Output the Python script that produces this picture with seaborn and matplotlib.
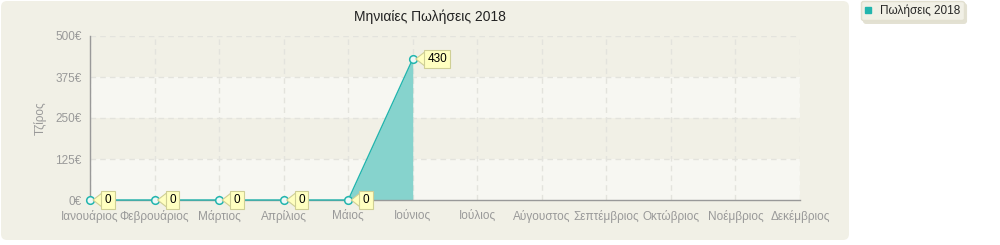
import numpy as np
import pandas as pd
import matplotlib
matplotlib.use("Agg")
import matplotlib.pyplot as plt
import matplotlib.transforms as mtransforms
import seaborn as sns
from matplotlib.patches import FancyBboxPatch, Polygon
from matplotlib.lines import Line2D

months = ["Ιανουάριος", "Φεβρουάριος", "Μάρτιος", "Απρίλιος", "Μάιος", "Ιούνιος",
          "Ιούλιος", "Αύγουστος", "Σεπτέμβριος", "Οκτώβριος", "Νοέμβριος", "Δεκέμβριος"]
sales = [0, 0, 0, 0, 0, 430, None, None, None, None, None, None]
yticks = [0, 125, 250, 375, 500]
ytick_labels = ["0€", "125€", "250€", "375€", "500€"]
title = "Μηνιαίες Πωλήσεις 2018"
ylabel = "Τζίρος"
series_name = "Πωλήσεις 2018"

sns.set_theme(style="white")
plt.rcParams['font.family'] = ['Liberation Sans', 'DejaVu Sans']

teal = "#22B5AE"
fill_c = "#86D3CD"
panel_c = "#F1F0E6"
light_band = "#F7F7F2"
grid_c = "#E3E3DD"
tick_c = "#999999"
tag_fc = "#FFFFC0"
tag_ec = "#CFCF95"

df = pd.DataFrame({"month": months, "sales": sales})
df["x"] = np.arange(len(months))
valid = df.dropna()

fig = plt.figure(figsize=(10, 2.45), dpi=100)
fig.patch.set_facecolor("white")

# panel background
panel = FancyBboxPatch((1, 245 - 240), 848, 239, boxstyle="round,pad=0,rounding_size=6",
                       transform=None, facecolor=panel_c, edgecolor="none", zorder=-5)
fig.patches.append(panel)

ax = fig.add_axes([0.09, 45 / 245, 0.71, 164 / 245])
ax.set_facecolor("none")
ax.set_zorder(1)

# alternating bands
for i in range(len(yticks) - 1):
    if i % 2 == 0:
        ax.axhspan(yticks[i], yticks[i + 1], color=light_band, zorder=0, lw=0)

# grid
for t in yticks[1:]:
    ax.axhline(t, color=grid_c, lw=1, ls=(0, (4, 3)), zorder=1)
for xi in df["x"]:
    ax.axvline(xi, color=grid_c, lw=1, ls=(0, (4, 3)), zorder=1)

ax.fill_between(valid["x"].values, 0, valid["sales"].values.astype(float),
                color=fill_c, lw=0, zorder=2)
sns.lineplot(data=valid, x="x", y="sales", ax=ax, color=teal, lw=1.0,
             marker="o", markersize=5.5, markerfacecolor="#EEF8F7",
             markeredgecolor=teal, markeredgewidth=1.1, zorder=5, legend=False,
             clip_on=False)

# value tags (pointer triangle in pixel offsets + text box)
px = mtransforms.Affine2D().scale(72.0 / fig.dpi)  # pixels -> points
for _, r in valid.iterrows():
    off = mtransforms.ScaledTranslation(r["x"], r["sales"], ax.transData)
    tr = px + mtransforms.Affine2D().scale(1 / 72.0) + fig.dpi_scale_trans + off
    tri = Polygon([(3, 0), (12, 7), (12, -7)], closed=True, transform=tr,
                  fc=tag_fc, ec=tag_ec, lw=0.8, zorder=6, clip_on=False)
    ax.add_patch(tri)
    ax.annotate(f"{int(r['sales'])}", (r["x"], r["sales"]), xytext=(10.5, 0),
                textcoords="offset points", ha="left", va="center", fontsize=8.5,
                color="black", zorder=7, annotation_clip=False,
                bbox=dict(boxstyle="square,pad=0.28", fc=tag_fc, ec=tag_ec, lw=0.8))

ax.set_xlim(0, 11)
ax.set_ylim(0, 500)
ax.set_xticks(df["x"])
ax.set_xticklabels(months, fontsize=8.5, color=tick_c)
ax.set_yticks(yticks)
ax.set_yticklabels(ytick_labels, fontsize=8.5, color=tick_c)
ax.tick_params(axis="both", length=4, width=1, color=tick_c, direction="out", pad=2)
ax.tick_params(axis="x", pad=3)
for s in ["top", "right"]:
    ax.spines[s].set_visible(False)
for s in ["left", "bottom"]:
    ax.spines[s].set_color(tick_c)
    ax.spines[s].set_linewidth(1)
    ax.spines[s].set_zorder(3)
ax.set_xlabel("")
ax.set_ylabel(ylabel, fontsize=8.5, color=tick_c, labelpad=6)

fig.text(0.43, 1 - 17 / 245, title, ha="center", va="center", fontsize=10, color="#222222")

# legend
handle = Line2D([], [], marker="s", color="none", markerfacecolor=teal,
                markeredgecolor=teal, markersize=4)
leg = fig.legend([handle], [series_name], loc="upper left",
                 bbox_to_anchor=(855 / 1000, 1 + 5 / 245), frameon=True,
                 fontsize=8.5, handlelength=0.6, handletextpad=0.7,
                 borderpad=0.3, fancybox=True,
                 shadow={"color": "#E3E1D2", "alpha": 1})
leg.get_frame().set_facecolor(panel_c)
leg.get_frame().set_edgecolor("#E2E0D0")

fig.savefig("out.png", dpi=100, facecolor=fig.get_facecolor())
